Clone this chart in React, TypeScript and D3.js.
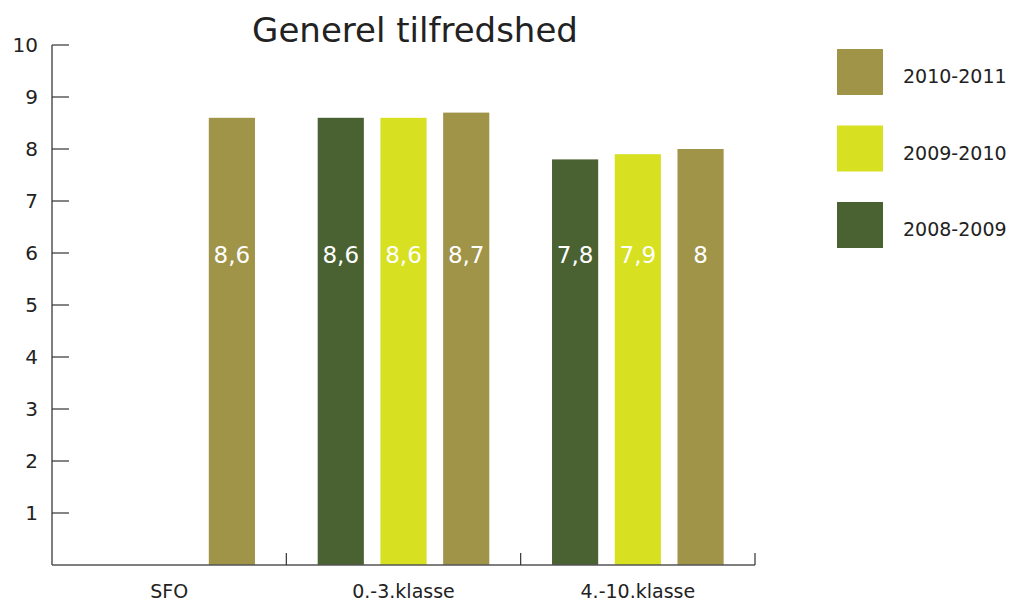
import React from "react";
import { scaleBand, scaleLinear, range } from "d3";

const title = "Generel tilfredshed";
const categories = ["SFO", "0.-3.klasse", "4.-10.klasse"];
const seriesNames = ["2008-2009", "2009-2010", "2010-2011"];
const seriesColors = ["#4a6131", "#d7e021", "#a09448"];
const values2008 = [null, 8.6, 7.8];
const values2009 = [null, 8.6, 7.9];
const values2010 = [8.6, 8.7, 8];
const labels2008 = ["", "8,6", "7,8"];
const labels2009 = ["", "8,6", "7,9"];
const labels2010 = ["8,6", "8,7", "8"];
const yTicks = [1, 2, 3, 4, 5, 6, 7, 8, 9, 10];
const legendOrder = [2, 1, 0];

const W = 1015;
const H = 603;
const left = 52;
const right = 755;
const top = 45;
const bottom = 565;
const font = "'DejaVu Sans', sans-serif";
const axisColor = "#555";

const series = [
  { name: seriesNames[0], color: seriesColors[0], values: values2008, labels: labels2008 },
  { name: seriesNames[1], color: seriesColors[1], values: values2009, labels: labels2009 },
  { name: seriesNames[2], color: seriesColors[2], values: values2010, labels: labels2010 },
];

const x = scaleBand<string>().domain(categories).range([left, right]);
const xs = scaleBand<string>()
  .domain(seriesNames)
  .range([0, x.bandwidth()])
  .paddingInner(0.264)
  .paddingOuter(0.5);
const y = scaleLinear().domain([0, 10]).range([bottom, top]);

export default function App() {
  return (
    <svg width={W} height={H} style={{ position: "absolute", left: 0, top: 0 }}>
      <rect width={W} height={H} fill="#fff" />
      <text x={415} y={42} textAnchor="middle" fontFamily={font} fontSize={34} fill="#222">
        {title}
      </text>

      {series.map((s) =>
        categories.map((c, i) => {
          const v = s.values[i];
          if (v == null) return null;
          const bx = x(c)! + xs(s.name)!;
          return (
            <g key={s.name + c}>
              <rect x={bx} y={y(v)} width={xs.bandwidth()} height={y(0) - y(v)} fill={s.color} />
              <text
                x={bx + xs.bandwidth() / 2}
                y={y(6) + 10}
                textAnchor="middle"
                fontFamily={font}
                fontSize={23}
                fill="#fff"
              >
                {s.labels[i]}
              </text>
            </g>
          );
        })
      )}

      {/* y axis */}
      <line x1={left} x2={left} y1={top} y2={bottom} stroke={axisColor} strokeWidth={1.5} />
      {yTicks.map((t) => (
        <g key={t}>
          <line x1={left} x2={left + 17} y1={y(t)} y2={y(t)} stroke="#333" strokeWidth={1.2} />
          <text x={38} y={y(t) + 7} textAnchor="end" fontFamily={font} fontSize={20} fill="#222">
            {t}
          </text>
        </g>
      ))}

      {/* x axis */}
      <line x1={left} x2={right} y1={bottom} y2={bottom} stroke={axisColor} strokeWidth={1.5} />
      {range(1, categories.length + 1).map((i) => {
        const tx = i < categories.length ? x(categories[i])! : right;
        return <line key={i} x1={tx} x2={tx} y1={bottom - 12} y2={bottom} stroke="#333" strokeWidth={1.2} />;
      })}
      {categories.map((c) => (
        <text
          key={c}
          x={x(c)! + x.bandwidth() / 2}
          y={598}
          textAnchor="middle"
          fontFamily={font}
          fontSize={19}
          fill="#222"
        >
          {c}
        </text>
      ))}

      {/* legend */}
      {legendOrder.map((si, k) => (
        <g key={si} transform={`translate(837, ${49 + k * 76.5})`}>
          <rect width={46} height={46} fill={series[si].color} />
          <text x={66} y={34} fontFamily={font} fontSize={19} fill="#222">
            {series[si].name}
          </text>
        </g>
      ))}
    </svg>
  );
}
